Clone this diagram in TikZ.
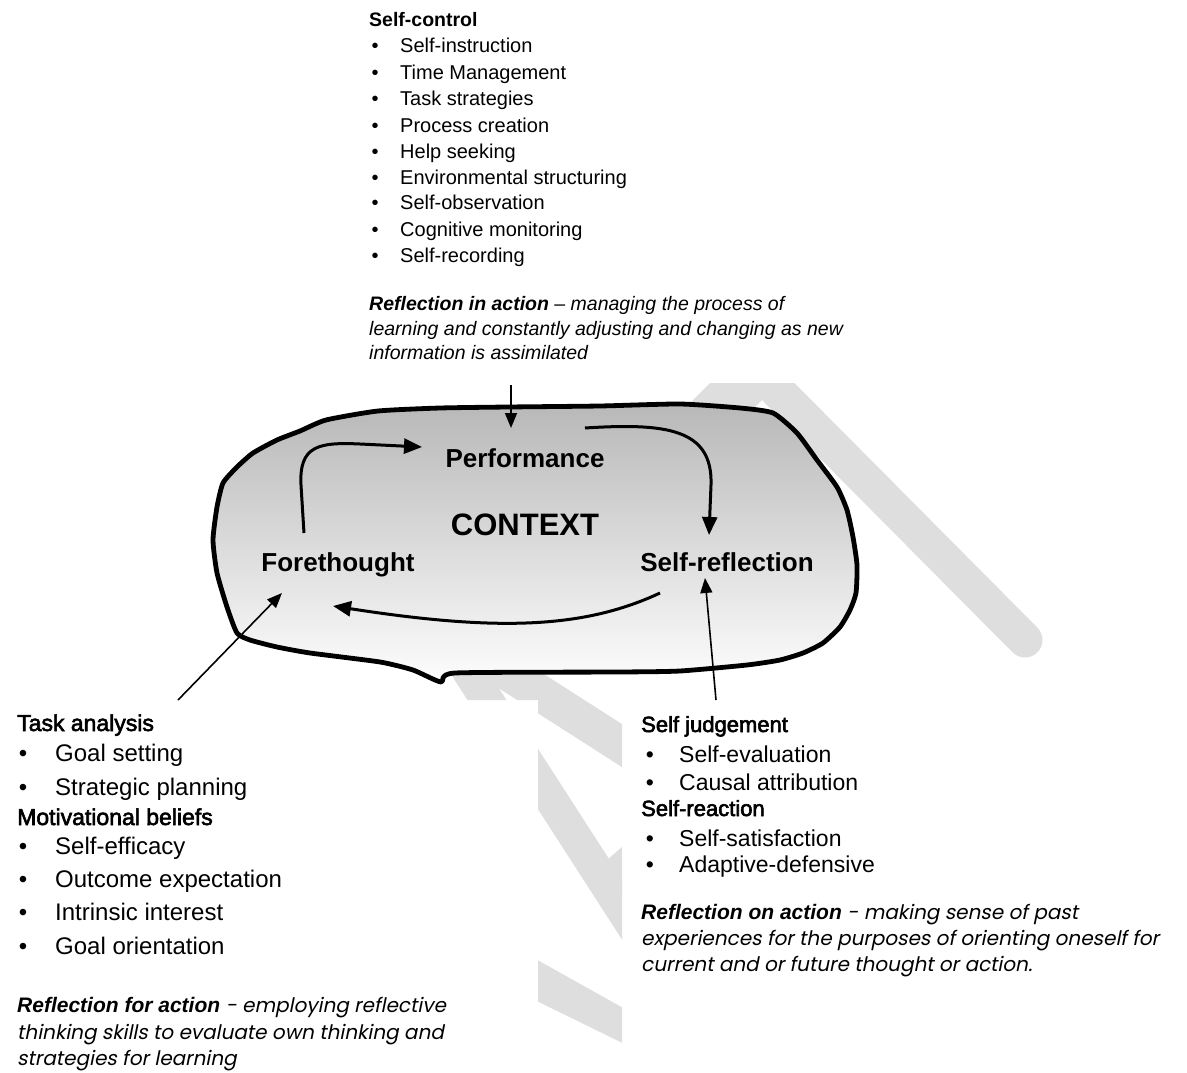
\documentclass[tikz,border=0pt]{standalone}
\usepackage{fontspec}
\setmainfont{Liberation Sans}
\newfontfamily\gothic[FakeSlant=0.2]{Poppins}
\newfontfamily\semib[FakeBold=2.6]{Liberation Sans}
\usetikzlibrary{arrows.meta}
\definecolor{wmgray}{RGB}{222,222,222}
\definecolor{blobtop}{RGB}{184,184,184}
\definecolor{blobbot}{RGB}{253,253,253}
\tikzset{
  txt/.style={inner sep=0pt, anchor=base west},
  bul/.style={inner sep=0pt, anchor=base},
  topf/.style={font=\fontsize{20}{24}\selectfont},
  lf/.style={font=\fontsize{24}{28}\selectfont},
  lhead/.style={font=\fontsize{23}{27}\semib},
  rf/.style={font=\fontsize{23}{27}\selectfont},
  rhead/.style={font=\fontsize{22}{26}\semib},
  reff/.style={font=\fontsize{20}{24}\selectfont},
  refb/.style={font=\fontsize{21}{24}\selectfont\bfseries\itshape},
  lab/.style={inner sep=0pt, anchor=base, font=\fontsize{26}{30}\selectfont\bfseries},
  cyc/.style={line width=3pt, -{Triangle[length=18pt,width=15pt]}},
  sarrow/.style={line width=1.6pt, -{Triangle[length=15pt,width=12pt]}},
  blob/.style={line width=4.8pt, line join=round, top color=blobtop, bottom color=blobbot},
}
\begin{document}
\begin{tikzpicture}[x=1pt,y=-1pt]
\useasboundingbox (0,0) rectangle (1187,1073);

% ---------- watermark ----------
\begin{scope}
  \clip (600,383) rectangle (1187,700);
  \draw[wmgray, line width=35pt, line cap=round] (740,353) -- (1025,640);
  \fill[wmgray] (710,383) -- (760,383) -- (762,400) -- (650,512) -- (598,495) -- cycle;
\end{scope}
\begin{scope}
  \clip (440,673) rectangle (538,700) (538,673) rectangle (622,1073);
  \fill[wmgray] (400,582) -- (700,774) -- (700,817) -- (400,625) -- cycle;
  \fill[wmgray] (442,600) -- (700,1000) -- (661,1000) -- (403,600) -- cycle;
  \fill[wmgray] (607,860) -- (700,779) -- (700,826) -- (602.7,910) -- cycle;
  \fill[wmgray] (500,939) -- (700,1051) -- (700,1081) -- (500,983) -- cycle;
\end{scope}

% ---------- blob ----------
\draw[blob] plot[smooth cycle, tension=0.35] coordinates {
 (237,467) (253,453) (277,440) (300,431) (326,420) (378,411) (440,408) (508,407)
 (600,406) (680,404) (740,408) (773,413) (797,433) (817,460) (837,487) (847,510)
 (853,537) (857,565) (856,593) (850,610) (840,627) (823,643) (803,653) (780,660)
 (747,665) (680,671) (620,672) (455,673) (441,682) (413,670) (380,662) (310,653)
 (277,647) (250,640) (237,633) (227,607) (217,573) (213,540) (217,507) (223,483)};

% ---------- labels in the blob ----------
\node[lab] (perf) at (525,467) {Performance};
\node[lab, font=\fontsize{31}{36}\selectfont\bfseries] (ctx) at (525,535) {CONTEXT};
\node[lab] (fore) at (338,571) {Forethought};
\node[lab] (selfr) at (727,571) {Self-reflection};

% ---------- cycle arrows ----------
\coordinate (fp0) at (304,533);
\coordinate (fp1) at (422,447);
\draw[cyc] (fp0) -- (301,485) .. controls (299,446) and (318,442) .. (360,444) -- (fp1);
\coordinate (ps0) at (585,428);
\coordinate (ps1) at (709,535);
\draw[cyc] (ps0) .. controls (665,423) and (713,428) .. (711,485) -- (ps1);
\coordinate (sf0) at (660,593);
\coordinate (sf1) at (333,606);
\draw[cyc] (sf0) .. controls (585,628) and (500,632) .. (sf1);

% ---------- input arrows ----------
\coordinate (tin0) at (511,385);
\coordinate (tin1) at (511,428);
\draw[sarrow] (tin0) -- (tin1);
\coordinate (ta0) at (178,700);
\coordinate (ta1) at (282,593);
\draw[sarrow] (ta0) -- (ta1);
\coordinate (sj0) at (716,700);
\coordinate (sj1) at (705,578);
\draw[sarrow] (sj0) -- (sj1);

% ---------- top block ----------
\node[txt, font=\fontsize{19.5}{24}\selectfont\bfseries] (sc) at (369,27) {Self-control};
\node[bul, topf] (tb1) at (375,53) {•};  \node[txt, topf] (t1) at (400,53) {Self-instruction};
\node[bul, topf] (tb2) at (375,80) {•};  \node[txt, topf] (t2) at (400,80) {Time Management};
\node[bul, topf] (tb3) at (375,106) {•}; \node[txt, topf] (t3) at (400,106) {Task strategies};
\node[bul, topf] (tb4) at (375,132) {•}; \node[txt, topf] (t4) at (400,132) {Process creation};
\node[bul, topf] (tb5) at (375,158) {•}; \node[txt, topf] (t5) at (400,158) {Help seeking};
\node[bul, topf] (tb6) at (375,184) {•}; \node[txt, topf] (t6) at (400,184) {Environmental structuring};
\node[bul, topf] (tb7) at (375,209) {•}; \node[txt, topf] (t7) at (400,209) {Self-observation};
\node[bul, topf] (tb8) at (375,236) {•}; \node[txt, topf] (t8) at (400,236) {Cognitive monitoring};
\node[bul, topf] (tb9) at (375,262) {•}; \node[txt, topf] (t9) at (400,262) {Self-recording};
\node[txt, font=\fontsize{19.5}{24}\selectfont] (ria1) at (369,310) {\textbf{\textit{Reflection in action}} \textit{– managing the process of}};
\node[txt, font=\fontsize{19.5}{24}\selectfont] (ria2) at (369,335) {\textit{learning and constantly adjusting and changing as new}};
\node[txt, font=\fontsize{19.5}{24}\selectfont] (ria3) at (369,359) {\textit{information is assimilated}};

% ---------- left block ----------
\node[txt, lhead] (ta) at (17,731) {Task analysis};
\node[bul, lf] (lb1) at (23,761) {•}; \node[txt, lf] (l1) at (55,761) {Goal setting};
\node[bul, lf] (lb2) at (23,795) {•}; \node[txt, lf] (l2) at (55,795) {Strategic planning};
\node[txt, lhead] (mb) at (17,825) {Motivational beliefs};
\node[bul, lf] (lb3) at (23,854) {•}; \node[txt, lf] (l3) at (55,854) {Self-efficacy};
\node[bul, lf] (lb4) at (23,887) {•}; \node[txt, lf] (l4) at (55,887) {Outcome expectation};
\node[bul, lf] (lb5) at (23,920) {•}; \node[txt, lf] (l5) at (55,920) {Intrinsic interest};
\node[bul, lf] (lb6) at (23,954) {•}; \node[txt, lf] (l6) at (55,954) {Goal orientation};
\node[txt, reff] (rfa1) at (17,1012) {{\fontsize{21}{24}\selectfont\bfseries\itshape Reflection for action} {\gothic - employing reflective}};
\node[txt, reff] (rfa2) at (17,1039) {\gothic thinking skills to evaluate own thinking and};
\node[txt, reff] (rfa3) at (17,1065) {\gothic strategies for learning};

% ---------- right block ----------
\node[txt, rhead] (sjh) at (641,732) {Self judgement};
\node[bul, rf] (rb1) at (650,762) {•}; \node[txt, rf] (r1) at (679,762) {Self-evaluation};
\node[bul, rf] (rb2) at (650,790) {•}; \node[txt, rf] (r2) at (679,790) {Causal attribution};
\node[txt, rhead] (srh) at (641,816) {Self-reaction};
\node[bul, rf] (rb3) at (650,846) {•}; \node[txt, rf] (r3) at (679,846) {Self-satisfaction};
\node[bul, rf] (rb4) at (650,872) {•}; \node[txt, rf] (r4) at (679,872) {Adaptive-defensive};
\node[txt, reff] (roa1) at (641,919) {{\fontsize{21}{24}\selectfont\bfseries\itshape Reflection on action} {\gothic - making sense of past}};
\node[txt, reff] (roa2) at (641,945) {\gothic experiences for the purposes of orienting oneself for};
\node[txt, reff] (roa3) at (641,971) {\gothic current and or future thought or action.};
\end{tikzpicture}
\end{document}
